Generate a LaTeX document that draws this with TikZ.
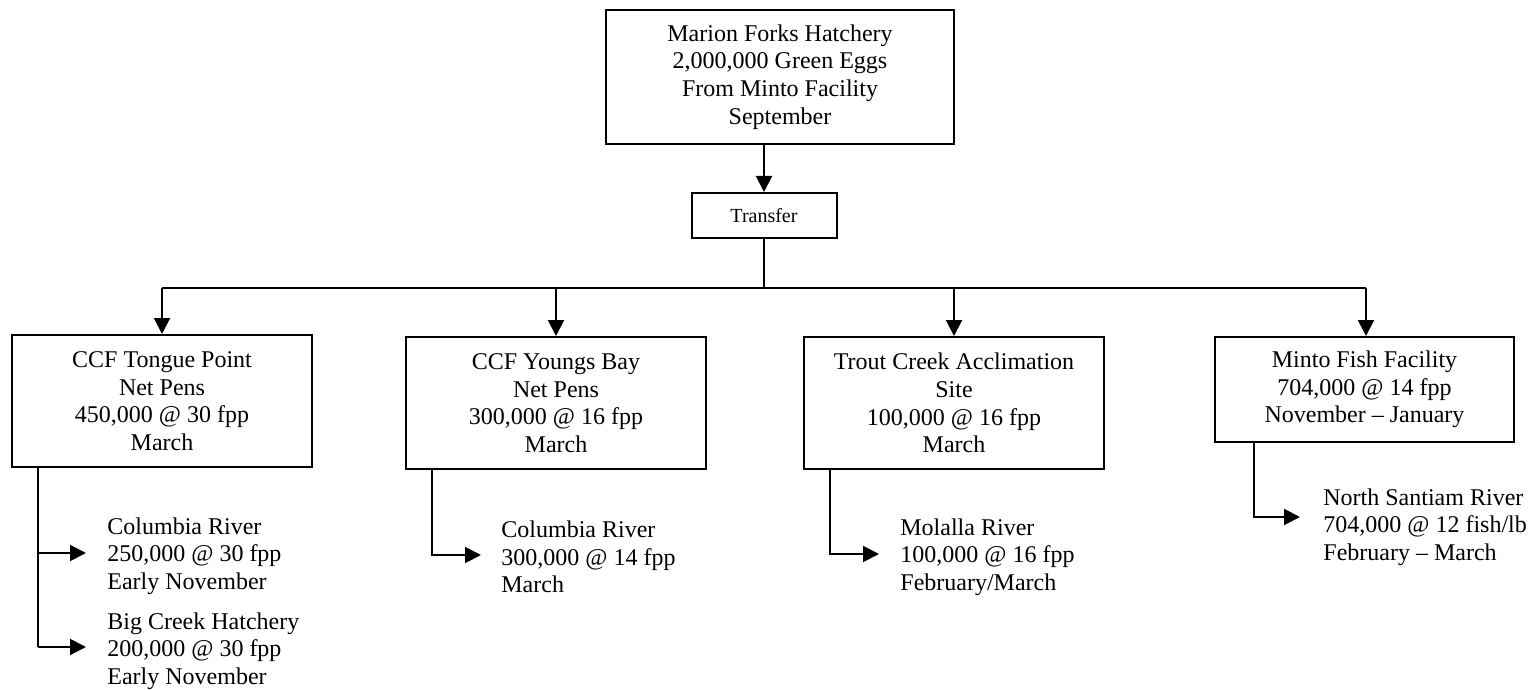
\documentclass[tikz,border=0pt]{standalone}
\usepackage{fontspec}
\setmainfont{Liberation Serif}
\usetikzlibrary{arrows.meta}
\begin{document}
\begin{tikzpicture}[x=0.5pt,y=-0.5pt,
  box/.style={draw,line width=1pt,rectangle,align=center,inner sep=0pt,
    font=\fontsize{12}{13.8}\selectfont},
  outtext/.style={align=left,anchor=west,inner sep=0pt,
    font=\fontsize{12}{13.8}\selectfont},
  conn/.style={line width=1pt},
  arr/.style={line width=1pt,-{Triangle[length=8pt,width=8pt]}}]
\useasboundingbox (0,0) rectangle (1532,690);

\node[box,minimum width=174pt,minimum height=67pt] (top) at (780,77)
  {Marion Forks Hatchery\\2,000,000 Green Eggs\\From Minto Facility\\September};
\node[box,minimum width=72.5pt,minimum height=22.5pt,font=\fontsize{10}{12}\selectfont] (tr) at (764,215.5) {Transfer};
\coordinate (bus) at (764,288);

\node[box,minimum width=150pt,minimum height=66pt] (b1) at (162,401)
  {CCF Tongue Point\\Net Pens\\450,000 @ 30 fpp\\March};
\node[box,minimum width=150pt,minimum height=66pt] (b2) at (556,403)
  {CCF Youngs Bay\\Net Pens\\300,000 @ 16 fpp\\March};
\node[box,minimum width=150pt,minimum height=66pt] (b3) at (954,403)
  {Trout Creek Acclimation\\Site\\100,000 @ 16 fpp\\March};
\node[box,minimum width=149.5pt,minimum height=52.5pt] (b4) at (1364.5,389.5)
  {Minto Fish Facility\\704,000 @ 14 fpp\\November – January};

\node[outtext] (o1a) at (107,556) {Columbia River\\250,000 @ 30 fpp\\Early November};
\node[outtext] (o1b) at (107,651) {Big Creek Hatchery\\200,000 @ 30 fpp\\Early November};
\node[outtext] (o2) at (501,557) {Columbia River\\300,000 @ 14 fpp\\March};
\node[outtext] (o3) at (900,557) {Molalla River\\100,000 @ 16 fpp\\February/March};
\node[outtext] (o4) at (1323,527) {North Santiam River\\704,000 @ 12 fish/lb\\February – March};

% trunk
\draw[arr] (tr.north |- top.south) -- (tr.north);
\draw[conn] (tr.south) -- (bus);
\draw[conn] (bus) -- (162,288) coordinate (bl);
\draw[conn] (bus) -- (1366,288) coordinate (brr);
\draw[arr] (bl) -- (b1.north);
\draw[arr] (bus -| b2.north) -- (b2.north);
\draw[arr] (bus -| b3.north) -- (b3.north);
\draw[arr] (brr) -- (brr |- b4.north);

% branches
\coordinate (s1) at (38,467);
\draw[conn] (s1) -- (38,647);
\draw[arr] (38,553) -- ([xshift=-10.5pt,yshift=1.5pt]o1a.west);
\draw[arr] (38,647) -- ([xshift=-10.5pt,yshift=2pt]o1b.west);
\draw[arr] (432,469) |- ([xshift=-10pt,yshift=1pt]o2.west);
\draw[arr] (830,469) |- ([xshift=-10.5pt,yshift=1.5pt]o3.west);
\draw[arr] (1254,442) |- ([xshift=-11.5pt,yshift=5pt]o4.west);
\end{tikzpicture}
\end{document}
